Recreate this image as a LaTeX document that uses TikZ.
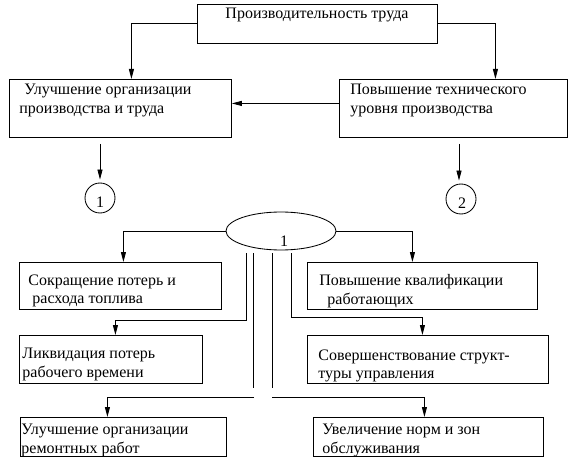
\documentclass[tikz,border=0pt]{standalone}
\usepackage{fontspec}
\setmainfont{Liberation Serif}
\usetikzlibrary{arrows.meta,shapes.geometric}

\begin{document}
\begin{tikzpicture}[x=1pt, y=-1pt, line width=0.85pt,
    box/.style={draw, rectangle, anchor=north west, inner sep=0pt},
    txt/.style={anchor=north west, align=left, inner sep=0pt, font=\fontsize{16}{18.5}\selectfont},
    num/.style={inner sep=0pt, font=\fontsize{16}{18.5}\selectfont},
    arr/.style={-{Triangle[length=10pt, width=5pt]}}]
\useasboundingbox (0,0) rectangle (575,470);

    % boxes
    \node[box, minimum width=240pt, minimum height=39pt] (prod) at (197,4) {};
    \node[box, minimum width=222pt, minimum height=58pt] (org) at (9,79) {};
    \node[box, minimum width=228pt, minimum height=58pt] (tech) at (339,79) {};
    \node[box, minimum width=202pt, minimum height=47pt] (cut) at (19,262) {};
    \node[box, minimum width=230pt, minimum height=47pt] (qual) at (307,262) {};
    \node[box, minimum width=183pt, minimum height=48pt] (liq) at (19,335) {};
    \node[box, minimum width=241pt, minimum height=48pt] (struct) at (307,335) {};
    \node[box, minimum width=206pt, minimum height=39pt] (rep) at (20,417) {};
    \node[box, minimum width=230pt, minimum height=39pt] (norm) at (313,417) {};
    \node[draw, circle, minimum size=30pt, inner sep=0pt] (c1) at (100,198) {};
    \node[draw, circle, minimum size=30pt, inner sep=0pt] (c2) at (461,199) {};
    \node[draw, ellipse, minimum width=110pt, minimum height=38pt, inner sep=0pt] (e1) at (281,231) {};

    % texts
    \node[num, anchor=base] (prodt) at (317,19) {Производительность труда};
    \node[txt] (orgt) at (19,84) {\hspace*{5pt}Улучшение организации\\производства и труда};
    \node[txt] (techt) at (350,84) {Повышение технического\\уровня производства};
    \node[txt] (cutt) at (28,274) {Сокращение потерь и\\\hspace*{4pt}расхода топлива};
    \node[txt] (qualt) at (319,274) {Повышение квалификации\\\hspace*{8pt}работающих};
    \node[txt] (liqt) at (22,348) {Ликвидация потерь\\рабочего времени};
    \node[txt] (structt) at (318,349) {Совершенствование структ-\\туры управления};
    \node[txt] (rept) at (21,424) {Улучшение организации\\ремонтных работ};
    \node[txt] (normt) at (322,424) {Увеличение норм и зон\\обслуживания};
    \node[num] (n1) at (100,202) {1};
    \node[num] (n2) at (462,203) {2};
    \node[num] (e1t) at (284,241) {1};

    % upper arrows
    \draw[arr] (prod.west) -| ([xshift=11pt]org.north);
    \draw[arr] (prod.east) -| ([xshift=42pt]tech.north);
    \draw[arr] ([yshift=5pt]tech.west) -- ([yshift=5pt]org.east);
    \coordinate (d1) at (100,144);
    \coordinate (d2) at (459,144);
    \draw[arr, shorten >=3pt] (d1) -- (d1 |- c1.north);
    \draw[arr, shorten >=3pt] (d2) -- (d2 |- c2.north);

    % lower arrows
    \draw[arr] (e1.west) -| ([xshift=3pt]cut.north);
    \draw[arr] (e1.east) -| ([xshift=-10pt]qual.north);
    \coordinate (va) at (246,253);
    \coordinate (vb) at (253,253);
    \coordinate (vc) at (272,253);
    \coordinate (vd) at (291,253);
    \coordinate (hb) at (254,397);
    \coordinate (hc) at (272,397);
    \draw[arr] (va) -- ++(0,67) -| ([xshift=4.5pt]liq.north);
    \draw[arr] (vd) -- ++(0,64) -| ([xshift=-5.5pt]struct.north);
    \draw (vb) -- ++(0,135);
    \draw (vc) -- ++(0,135);
    \draw[arr] (hb) -| ([xshift=-16pt]rep.north);
    \draw[arr] (hc) -| ([xshift=-4pt]norm.north);
\end{tikzpicture}
\end{document}
